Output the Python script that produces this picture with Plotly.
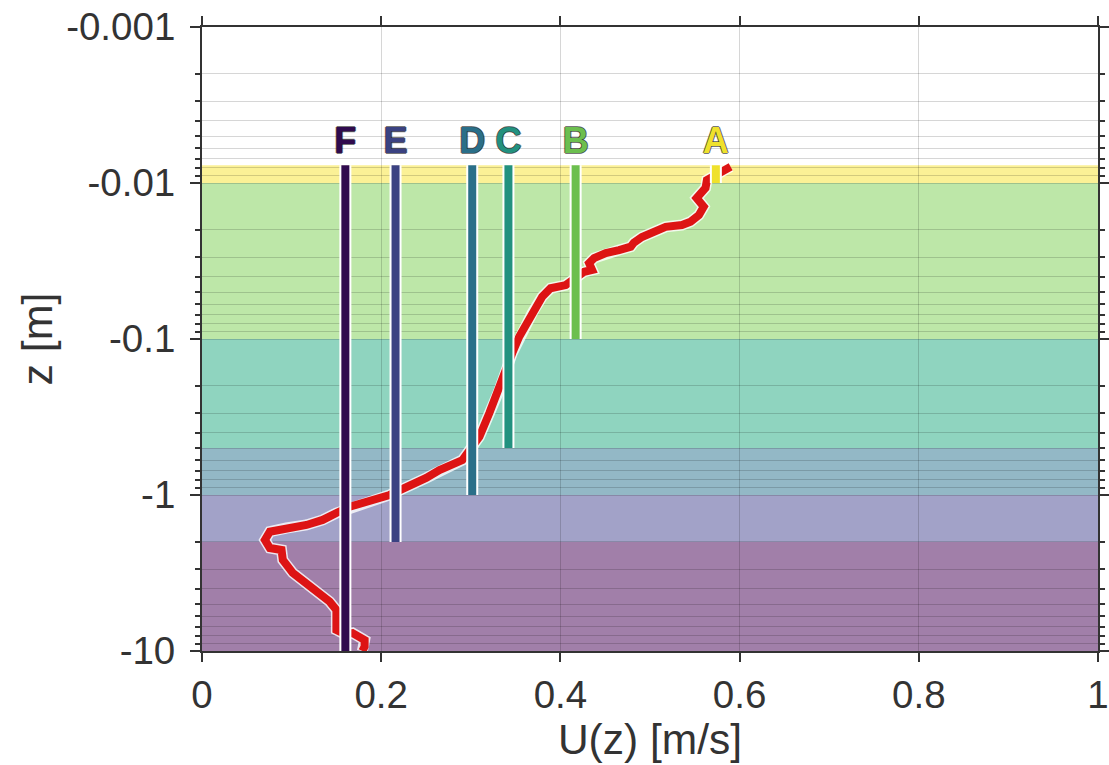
import plotly.graph_objects as go

# ---------------- data ----------------
# velocity profile U(z) (depth given as positive metres, shown as negative labels)
depth_m = [0.00786, 0.00846, 0.00957, 0.01076, 0.01248, 0.01419, 0.01604, 0.0177,
           0.0186, 0.0191, 0.0205, 0.0222, 0.0241, 0.0256, 0.0269, 0.0281, 0.0303,
           0.0326, 0.0361, 0.0371, 0.0451, 0.0473, 0.0536, 0.0681, 0.0966, 0.123,
           0.212, 0.298, 0.423, 0.597, 0.692, 0.778, 1.0, 1.104, 1.189, 1.304,
           1.445, 1.556, 1.628, 1.719, 1.941, 2.187, 2.253, 2.611, 3.16, 3.66,
           4.25, 4.83, 5.46, 7.33, 7.78, 7.67, 8.5, 9.37, 10.0]
u_ms = [0.590, 0.580, 0.5635, 0.562, 0.552, 0.560, 0.5546, 0.5453,
        0.5356, 0.5175, 0.502, 0.491, 0.482, 0.4785, 0.4655, 0.4507, 0.4376,
        0.432, 0.4354, 0.4265, 0.406, 0.389, 0.3797, 0.3686, 0.354, 0.3463,
        0.3318, 0.3207, 0.3096, 0.2906, 0.265, 0.2502, 0.2094, 0.1834, 0.1648, 0.150,
        0.1347, 0.1166, 0.0943, 0.0757, 0.0702, 0.0757, 0.0888, 0.0902, 0.1013, 0.1166,
        0.1314, 0.1425, 0.150, 0.150, 0.159, 0.168, 0.1815, 0.1815, 0.179]

# layers A-F: depth-averaged velocity from surface to each layer bottom
layer_names = ["A", "B", "C", "D", "E", "F"]
layer_top = [0.0077, 0.01, 0.1, 0.5, 1.0, 2.0]
layer_bottom = [0.01, 0.1, 0.5, 1.0, 2.0, 10.0]
layer_mean_u = [0.5735, 0.417, 0.342, 0.3016, 0.216, 0.160]
bar_top = 0.0077
label_depth = 0.0056

bar_colors = ["#efe12c", "#6cbf4f", "#22917f", "#2a6f89", "#3b4282", "#300b4e"]
band_colors = ["#fbf196", "#bde7a8", "#8fd4bf", "#93b8c6", "#a2a2c8", "#a17fa9"]

x_tickvals = [0, 0.2, 0.4, 0.6, 0.8, 1]
x_ticktext = ["0", "0.2", "0.4", "0.6", "0.8", "1"]
y_tickvals = [0.001, 0.01, 0.1, 1, 10]
y_ticktext = ["-0.001", "-0.01", "-0.1", "-1", "-10"]
y_minor_vals = [m * 10.0 ** e for e in range(-3, 1) for m in range(2, 10)]

FONT = "Liberation Sans, Arial, Helvetica, sans-serif"
AXCOL = "#333333"
GRID = "rgba(0,0,0,0.16)"

fig = go.Figure()

# colored layer bands
for top, bot, col in zip(layer_top, layer_bottom, band_colors):
    fig.add_shape(type="rect", xref="x", yref="y", x0=0, x1=1, y0=top, y1=bot,
                  fillcolor=col, line=dict(width=0), layer="below")

# velocity profile with white outline
fig.add_trace(go.Scatter(x=u_ms, y=depth_m, mode="lines",
                         line=dict(color="rgba(255,255,255,0.8)", width=11),
                         hoverinfo="skip", showlegend=False))
fig.add_trace(go.Scatter(x=u_ms, y=depth_m, mode="lines",
                         line=dict(color="#dd1414", width=8),
                         showlegend=False))

# vertical bars of layer mean velocity
for name, u, bot, col in zip(layer_names, layer_mean_u, layer_bottom, bar_colors):
    fig.add_trace(go.Scatter(x=[u, u], y=[bar_top, bot], mode="lines",
                             line=dict(color="white", width=12),
                             hoverinfo="skip", showlegend=False))
    fig.add_trace(go.Scatter(x=[u, u], y=[bar_top, bot], mode="lines",
                             line=dict(color=col, width=8),
                             name=name, showlegend=False))

# letter labels
fig.add_trace(go.Scatter(
    x=layer_mean_u, y=[label_depth] * len(layer_names), mode="text",
    text=layer_names, textposition="middle center",
    textfont=dict(family="Liberation Sans, Arial", size=36,
                  color=bar_colors, weight="bold",
                  shadow="1px 0 0 rgba(0,0,0,0.55), -1px 0 0 rgba(0,0,0,0.55), 0 1px 0 rgba(0,0,0,0.55), 0 -1px 0 rgba(0,0,0,0.55)"),
    hoverinfo="skip", showlegend=False))

fig.update_layout(
    width=1109, height=765,
    margin=dict(l=202, r=11, t=27, b=114),
    paper_bgcolor="white", plot_bgcolor="white",
    font=dict(family=FONT, color=AXCOL),
    showlegend=False,
)

fig.update_xaxes(
    automargin=False, ticklabeloverflow="allow",
    range=[0, 1], tickvals=x_tickvals, ticktext=x_ticktext,
    tickfont=dict(size=38.5, color=AXCOL),
    title=dict(text="U(z) [m/s]", font=dict(size=42.5, color=AXCOL), standoff=6),
    showline=True, linecolor=AXCOL, linewidth=2, mirror="allticks",
    ticks="outside", ticklen=9, tickwidth=2, tickcolor=AXCOL,
    showgrid=True, gridcolor=GRID, gridwidth=1, zeroline=False,
)

fig.update_yaxes(
    automargin=False, ticklabeloverflow="allow",
    type="log", range=[1, -3], tickmode="array",
    tickvals=y_tickvals, ticktext=y_ticktext,
    tickfont=dict(size=38.5, color=AXCOL), ticklabelstandoff=7,
    title=dict(text="z [m]", font=dict(size=43, color=AXCOL), standoff=0),
    showline=True, linecolor=AXCOL, linewidth=2, mirror="allticks",
    ticks="outside", ticklen=10, tickwidth=2, tickcolor=AXCOL,
    showgrid=True, gridcolor=GRID, gridwidth=1, zeroline=False,
    minor=dict(tickmode="array", tickvals=y_minor_vals, ticks="outside",
               ticklen=5, tickwidth=1.5, tickcolor=AXCOL,
               showgrid=True, gridcolor=GRID, gridwidth=1),
)

fig.write_html("out.html", config={"displayModeBar": False},
               post_script="document.body.style.margin='0';document.body.style.overflow='hidden';")
